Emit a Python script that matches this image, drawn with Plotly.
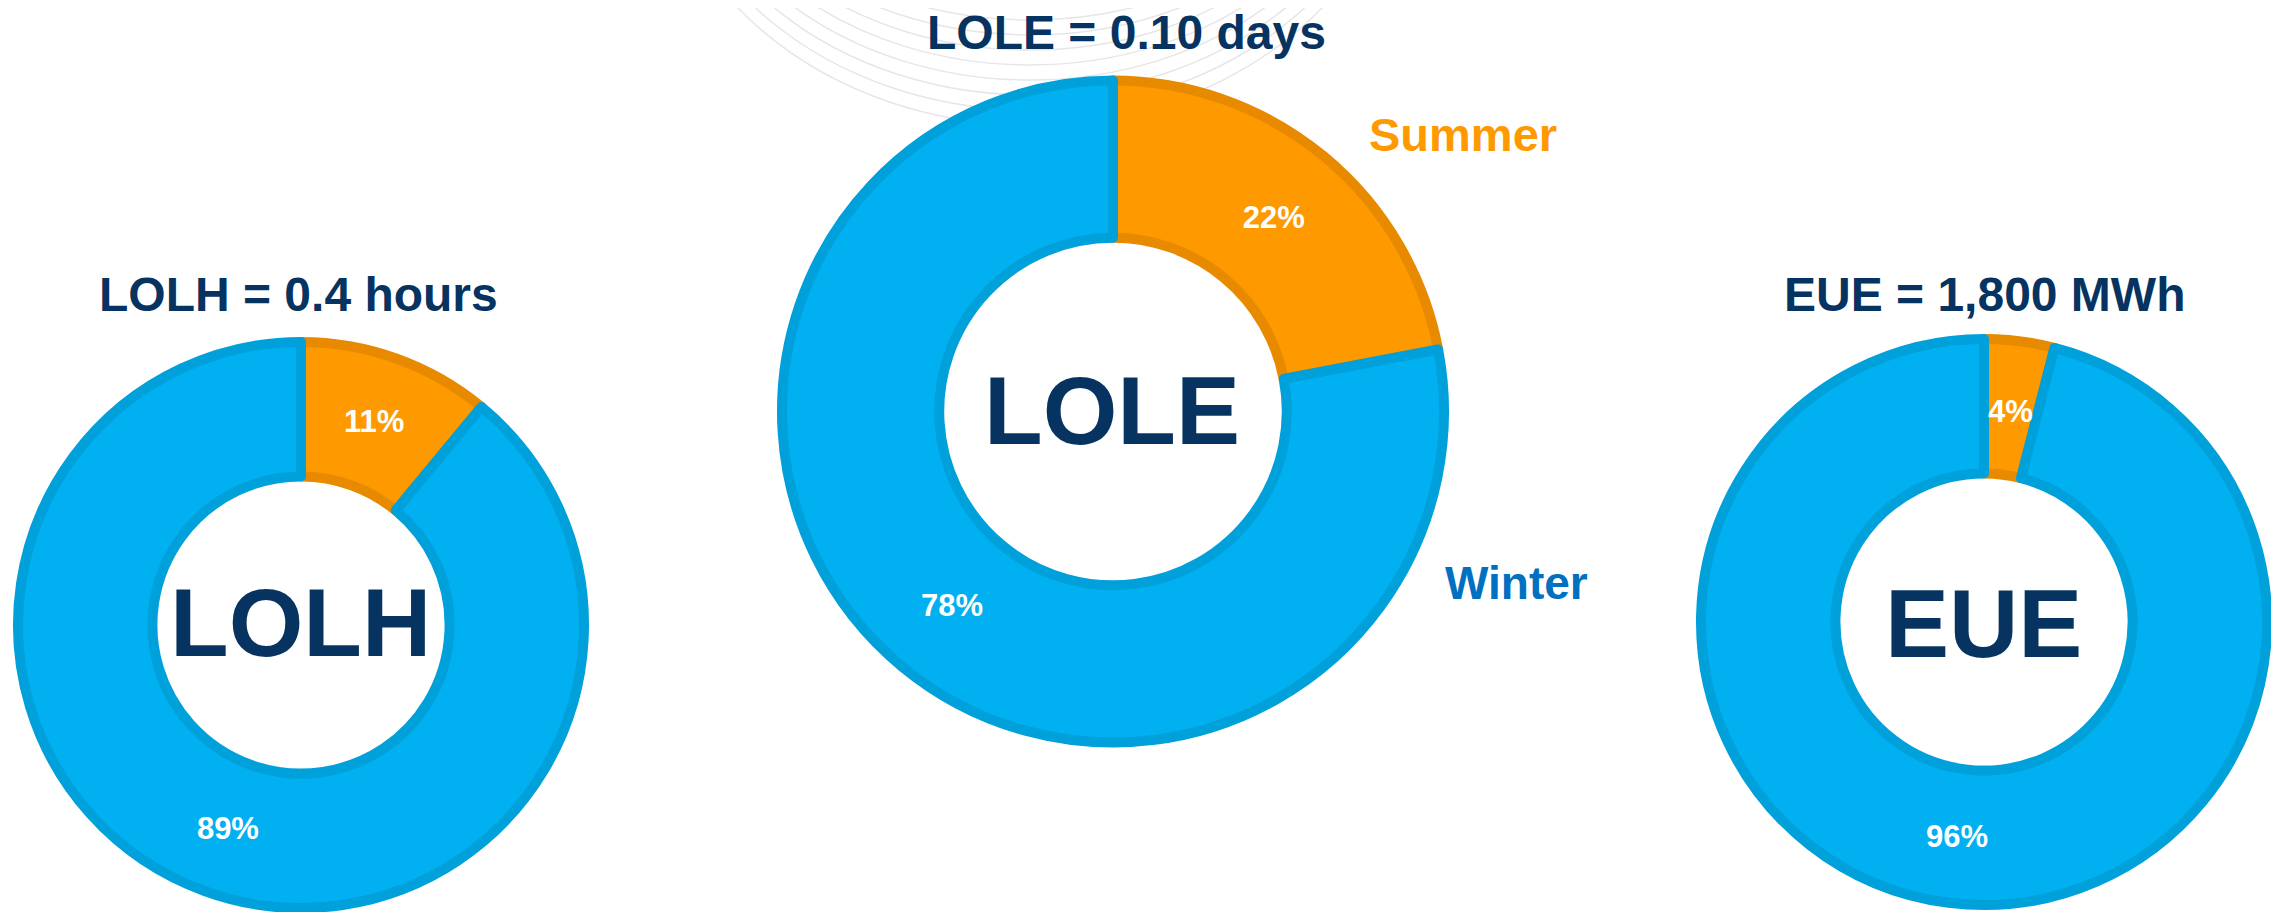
import math
import plotly.graph_objects as go

W, H = 2279, 912
OFF = 8  # default body margin of the html page

# data
seasons = ['Summer', 'Winter']
lolh_share = [11, 89]
lole_share = [22, 78]
eue_share = [4, 96]

metric_names = ['LOLH', 'LOLE', 'EUE']
metric_titles = ['LOLH = 0.4 hours', 'LOLE = 0.10 days', 'EUE = 1,800 MWh']

NAVY = '#06335f'
ORANGE = '#ff9900'
ORANGE_EDGE = '#e88a00'
BLUE = '#00b0f0'
BLUE_EDGE = '#00a0db'
FONT = 'Liberation Sans, Arial, sans-serif'

FW, FH = W - OFF, H - OFF


def px_x(x):
    return (x - OFF) / FW


def px_y(y):
    return 1 - (y - OFF) / FH


def donut(values, cx, cy, r, textpos='inside'):
    """Donut centred on pixel (cx, cy) with radius r (pixels)."""
    return go.Pie(
        labels=seasons,
        values=values,
        sort=False,
        direction='clockwise',
        rotation=0,
        hole=0.525,
        marker=dict(colors=[ORANGE, BLUE], line=dict(color=[ORANGE_EDGE, BLUE_EDGE], width=10)),
        texttemplate='%{percent:.0%}',
        textposition=textpos,
        insidetextorientation='horizontal',
        textfont=dict(family=FONT, size=31, color='white', weight='bold'),
        hoverinfo='label+percent',
        showlegend=False,
        domain=dict(x=[px_x(cx - r), px_x(cx + r)], y=[px_y(cy + r), px_y(cy - r)]),
    )


fig = go.Figure()
fig.add_trace(donut(lolh_share, 301, 625, 283))
fig.add_trace(donut(lole_share, 1113, 411.5, 331))
# the thin summer slice of EUE gets its label placed by hand below
fig.add_trace(donut(eue_share, 1984, 622, 283, textpos=['none', 'inside']))

# faint decorative arcs behind the middle donut
shapes = []
for i in range(9):
    rx = 300 + i * 10
    ry = 205 + i * 15
    shapes.append(dict(
        type='circle', xref='paper', yref='paper', layer='below',
        x0=px_x(1030 - rx), x1=px_x(1030 + rx),
        y0=px_y(-200 + ry), y1=px_y(-200 - ry),
        line=dict(color='#e6e6e6', width=1.5),
    ))

annotations = []
# titles above each donut
for text, x, y in zip(metric_titles, [298, 1126, 1984], [294, 33, 294]):
    annotations.append(dict(text=text, x=px_x(x), y=px_y(y), xref='paper', yref='paper',
                            showarrow=False, xanchor='center', yanchor='middle',
                            font=dict(family=FONT, size=48, color=NAVY, weight='bold')))
# big names in the holes
for text, x, y in zip(metric_names, [300, 1112, 1983], [622, 410, 623]):
    annotations.append(dict(text=text, x=px_x(x), y=px_y(y), xref='paper', yref='paper',
                            showarrow=False, xanchor='center', yanchor='middle',
                            font=dict(family=FONT, size=96, color=NAVY, weight='bold')))

# label of the thin EUE summer slice, at the middle of the slice
frac = eue_share[0] / sum(eue_share)
ang = math.radians(360 * frac / 2)
rad = 0.75 * 283
annotations.append(dict(text=f'{round(frac * 100)}%',
                        x=px_x(1984 + rad * math.sin(ang)), y=px_y(622 - rad * math.cos(ang)),
                        xref='paper', yref='paper', showarrow=False,
                        xanchor='center', yanchor='middle',
                        font=dict(family=FONT, size=31, color='white', weight='bold')))

# season labels
annotations.append(dict(text='Summer', x=px_x(1463), y=px_y(135), xref='paper', yref='paper',
                        showarrow=False, xanchor='center', yanchor='middle',
                        font=dict(family=FONT, size=47, color=ORANGE, weight='bold')))
annotations.append(dict(text='Winter', x=px_x(1516), y=px_y(583), xref='paper', yref='paper',
                        showarrow=False, xanchor='center', yanchor='middle',
                        font=dict(family=FONT, size=46, color='#0070c0', weight='bold')))

fig.update_layout(
    width=FW,
    height=FH,
    margin=dict(l=0, r=0, t=0, b=0),
    paper_bgcolor='white',
    plot_bgcolor='white',
    shapes=shapes,
    annotations=annotations,
    uniformtext=dict(minsize=31, mode='show'),
)

fig.write_html('out.html')
